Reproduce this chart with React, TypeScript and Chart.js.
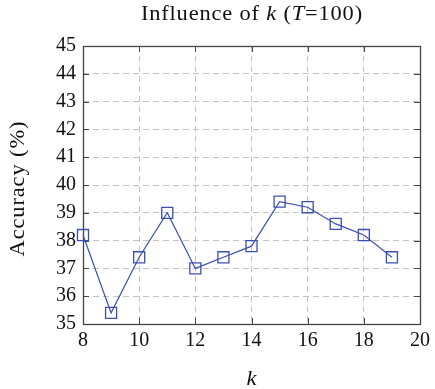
import React, { useEffect, useRef } from "react";
import { Chart, registerables } from "chart.js";

Chart.register(...registerables);

// k values and accuracy (%) measured at T = 100
const kValues: number[] = [8, 9, 10, 11, 12, 13, 14, 15, 16, 17, 18, 19];
const accuracy: number[] = [38.2, 35.4, 37.4, 39.0, 37.0, 37.4, 37.8, 39.4, 39.2, 38.6, 38.2, 37.4];

const xTickValues: number[] = [8, 10, 12, 14, 16, 18, 20];
const yTickValues: number[] = [35, 36, 37, 38, 39, 40, 41, 42, 43, 44, 45];

const titleParts: { text: string; italic: boolean }[] = [
  { text: "Influence of ", italic: false },
  { text: "k", italic: true },
  { text: " (", italic: false },
  { text: "T", italic: true },
  { text: "=100)", italic: false },
];
const xAxisTitle = "k";
const yAxisTitle = "Accuracy (%)";

const FONT = "'Liberation Serif', 'DejaVu Serif', serif";
const LINE_COLOR = "#3b4fb0";
const FRAME_COLOR = "#444444";
const TEXT_COLOR = "#111111";
const TEXT_STRETCH = 1.12;

const fontFor = (italic: boolean) => `${italic ? "italic " : ""}20px ${FONT}`;

// Draws a run of normal/italic pieces, slightly widened, centred on (cx, baseline y)
function drawRuns(ctx: any, parts: { text: string; italic: boolean }[], cx: number, y: number, spacing: number) {
  ctx.save();
  ctx.letterSpacing = `${spacing}px`;
  let total = 0;
  for (const p of parts) {
    ctx.font = fontFor(p.italic);
    total += ctx.measureText(p.text).width;
  }
  total -= spacing;
  ctx.translate(cx, y);
  ctx.scale(TEXT_STRETCH, 1);
  let x = -total / 2;
  for (const p of parts) {
    ctx.font = fontFor(p.italic);
    ctx.fillText(p.text, x, 0);
    x += ctx.measureText(p.text).width;
  }
  ctx.restore();
}

// Chart title and axis titles
const titlesPlugin = {
  id: "titles",
  afterDraw(chart: any) {
    const { ctx, chartArea } = chart;
    const cx = (chartArea.left + chartArea.right) / 2;
    ctx.save();
    ctx.fillStyle = TEXT_COLOR;
    ctx.textAlign = "left";
    ctx.textBaseline = "alphabetic";
    drawRuns(ctx, titleParts, cx, 20, 0.75);
    drawRuns(ctx, [{ text: xAxisTitle, italic: true }], cx, 385, 0);
    ctx.save();
    ctx.translate(24, 189);
    ctx.rotate(-Math.PI / 2);
    drawRuns(ctx, [{ text: yAxisTitle, italic: false }], 0, 0, 0.8);
    ctx.restore();
    ctx.restore();
  },
};

// Box frame with inward tick marks on all four sides
const framePlugin = {
  id: "boxFrame",
  beforeDatasetsDraw(chart: any) {
    const { ctx, chartArea, scales } = chart;
    const { left, right, top, bottom } = chartArea;
    const len = 6;
    ctx.save();
    ctx.strokeStyle = FRAME_COLOR;
    ctx.lineWidth = 1;
    ctx.beginPath();
    for (const v of xTickValues) {
      const px = Math.round(scales.x.getPixelForValue(v)) + 0.5;
      ctx.moveTo(px, bottom);
      ctx.lineTo(px, bottom - len);
      ctx.moveTo(px, top);
      ctx.lineTo(px, top + len);
    }
    for (const v of yTickValues) {
      const py = Math.round(scales.y.getPixelForValue(v)) + 0.5;
      ctx.moveTo(left, py);
      ctx.lineTo(left + len, py);
      ctx.moveTo(right, py);
      ctx.lineTo(right - len, py);
    }
    ctx.stroke();
    ctx.lineWidth = 1.3;
    ctx.strokeRect(Math.round(left) + 0.5, Math.round(top) + 0.5, Math.round(right - left), Math.round(bottom - top));
    ctx.restore();
  },
};

export default function App() {
  const canvasRef = useRef<HTMLCanvasElement | null>(null);

  useEffect(() => {
    const canvas = canvasRef.current;
    if (!canvas) return;
    const chart = new Chart(canvas, {
      type: "line",
      data: {
        datasets: [
          {
            data: kValues.map((k, i) => ({ x: k, y: accuracy[i] })),
            borderColor: LINE_COLOR,
            borderWidth: 1.2,
            pointStyle: "rect",
            pointRadius: 7.8,
            pointBorderWidth: 1.3,
            pointBorderColor: LINE_COLOR,
            pointBackgroundColor: "rgba(0,0,0,0)",
            tension: 0,
            clip: false as any,
          },
        ],
      },
      options: {
        responsive: false,
        animation: false,
        devicePixelRatio: 1,
        layout: { padding: { top: 46, right: 12, left: 0, bottom: 0 } },
        plugins: {
          legend: { display: false },
          tooltip: { enabled: false },
          title: { display: false },
        },
        scales: {
          x: {
            type: "linear",
            min: 8,
            max: 20,
            afterBuildTicks: (scale: any) => {
              scale.ticks = xTickValues.map((v) => ({ value: v }));
            },
            afterFit: (scale: any) => {
              scale.height = 65;
            },
            ticks: {
              font: { family: FONT, size: 20 },
              color: TEXT_COLOR,
              padding: 5,
              maxRotation: 0,
            },
            grid: { color: "#c4c4c4", lineWidth: 1, drawTicks: false },
            border: { display: false, dash: [6, 4] },
          },
          y: {
            type: "linear",
            min: 35,
            max: 45,
            afterBuildTicks: (scale: any) => {
              scale.ticks = yTickValues.map((v) => ({ value: v }));
            },
            afterFit: (scale: any) => {
              scale.width = 83;
            },
            ticks: {
              font: { family: FONT, size: 20 },
              color: TEXT_COLOR,
              padding: 7,
            },
            grid: { color: "#c4c4c4", lineWidth: 1, drawTicks: false },
            border: { display: false, dash: [6, 4] },
          },
        },
      },
      plugins: [framePlugin, titlesPlugin],
    });
    return () => chart.destroy();
  }, []);

  return (
    <div style={{ position: "absolute", left: 0, top: 0, width: 435, height: 389, background: "#fff" }}>
      <canvas ref={canvasRef} width={435} height={389} />
    </div>
  );
}
